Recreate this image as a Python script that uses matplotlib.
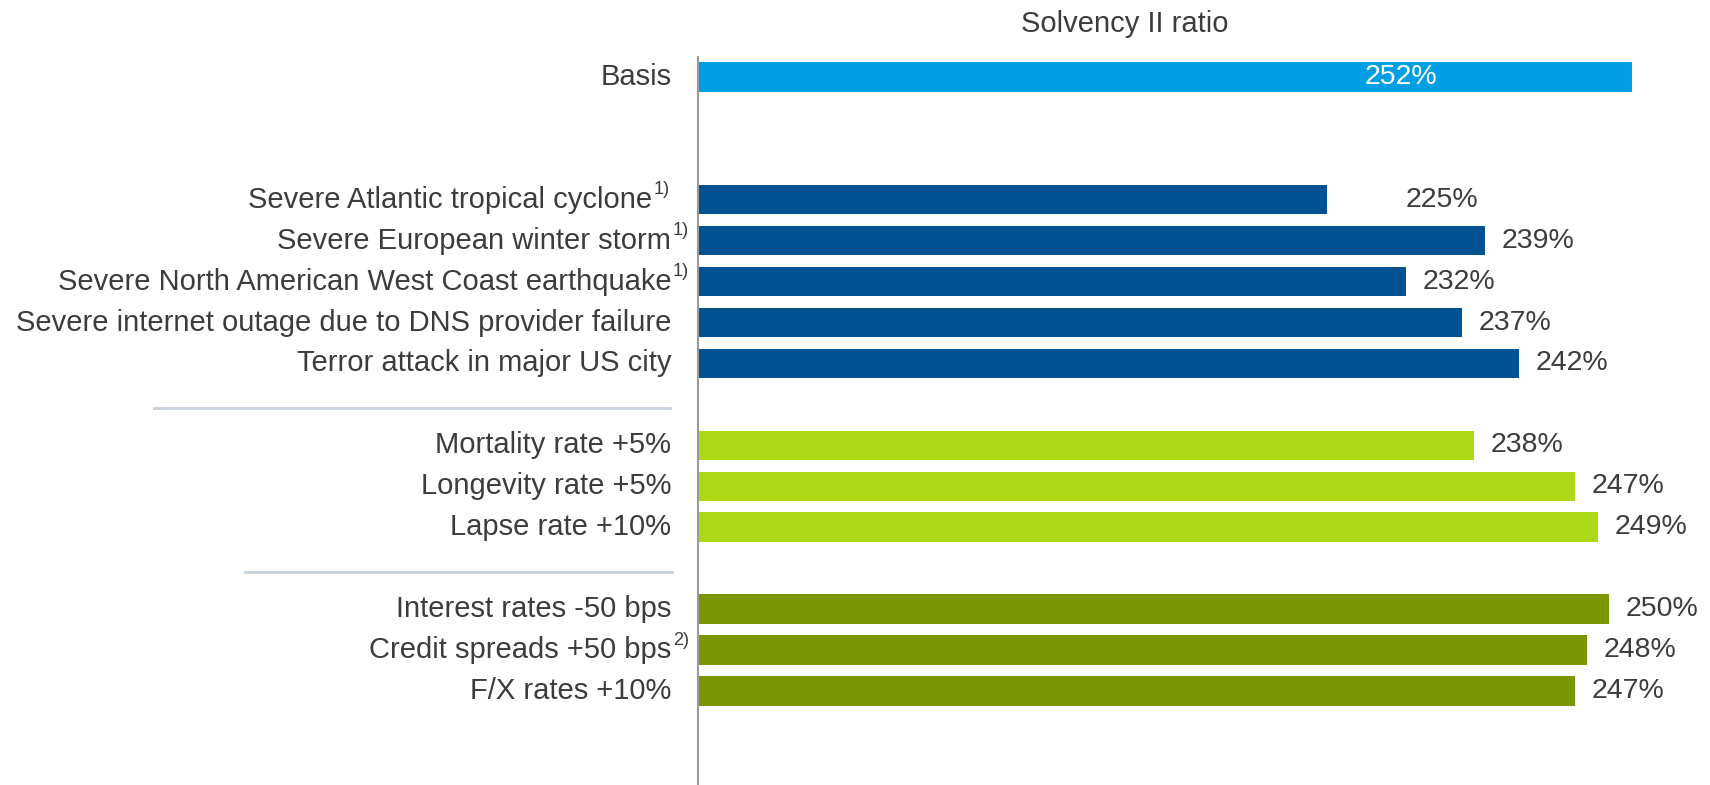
import matplotlib
matplotlib.use("Agg")
import matplotlib.pyplot as plt
import matplotlib.transforms as mtransforms

plt.rcParams['font.family'] = ['Liberation Sans', 'DejaVu Sans']

# Data
labels = ['Basis',
          'Severe Atlantic tropical cyclone',
          'Severe European winter storm',
          'Severe North American West Coast earthquake',
          'Severe internet outage due to DNS provider failure',
          'Terror attack in major US city',
          'Mortality rate +5%',
          'Longevity rate +5%',
          'Lapse rate +10%',
          'Interest rates -50 bps',
          'Credit spreads +50 bps',
          'F/X rates +10%']
footnotes = ['', '1)', '1)', '1)', '', '', '', '', '', '', '2)', '']
values = [252, 225, 239, 232, 237, 242, 238, 247, 249, 250, 248, 247]
groups = ['basis', 'pc', 'pc', 'pc', 'pc', 'pc', 'life', 'life', 'life', 'mkt', 'mkt', 'mkt']
rows = [0, 3, 4, 5, 6, 7, 9, 10, 11, 13, 14, 15]

colors = {'basis': '#009FE3', 'pc': '#005293', 'life': '#ADD816', 'mkt': '#7A9600'}
txt_col = '#3C3C3C'
base = 169.4

fig = plt.figure(figsize=(17.1, 7.85), dpi=100)
ax = fig.add_axes([0.408, 0.0, 0.592, 0.928])

bar_cols = [colors[g] for g in groups]
ax.barh(rows, [v - base for v in values], left=base, height=0.72, color=bar_cols)

ax.set_xlim(base, base + 89.5)
ax.set_ylim(17.3, -0.5)

# spines / ticks
for s in ['top', 'right', 'bottom']:
    ax.spines[s].set_visible(False)
ax.spines['left'].set_color('#9A9A9A')
ax.spines['left'].set_linewidth(1.5)
ax.set_xticks([])
ax.set_yticks([])

fs = 21
fs_val = 20.5
trans = mtransforms.blended_transform_factory(ax.transAxes, ax.transData)

# category labels
for i, (lab, fn, r) in enumerate(zip(labels, footnotes, rows)):
    x_off = -33 if i == 1 else -19   # footnote of the first one sits inside the label
    t = ax.annotate(lab, xy=(0, r), xycoords=trans, xytext=(x_off, 0),
                    textcoords='offset points', ha='right', va='center',
                    fontsize=fs, color=txt_col)
    if fn:
        ax.annotate(fn, xy=(1, 1), xycoords=t, xytext=(1, -3),
                    textcoords='offset points', ha='left', va='center',
                    fontsize=fs * 0.62, color=txt_col)

# value labels
for i, (v, r) in enumerate(zip(values, rows)):
    if i == 0:
        ax.text(v - 20.4, r, f'{v}%', ha='center', va='center',
                fontsize=fs_val, color='white')
    else:
        off = 57 if i == 1 else 12
        ax.annotate(f'{v}%', xy=(v, r), xytext=(off, 0), textcoords='offset points',
                    ha='left', va='center', fontsize=fs_val, color=txt_col)

# separators between groups
ax.plot([-0.537, -0.027], [8.08, 8.08], transform=trans, color='#C9D3DE',
        lw=2, clip_on=False)
ax.plot([-0.447, -0.025], [12.1, 12.1], transform=trans, color='#C9D3DE',
        lw=2, clip_on=False)

fig.text(0.658, 0.969, 'Solvency II ratio', ha='center', va='center',
         fontsize=fs, color=txt_col)

fig.savefig('out.png', dpi=100)
